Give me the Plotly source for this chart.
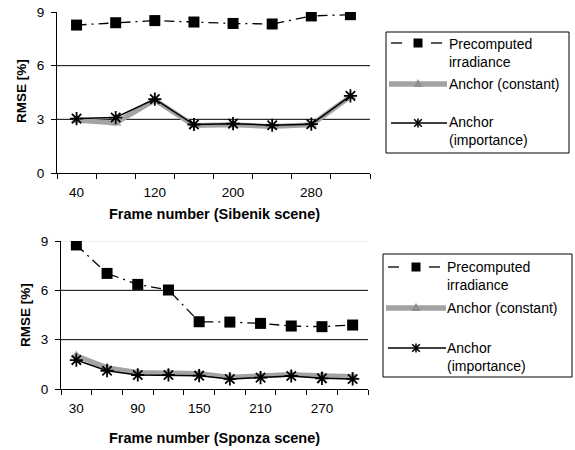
import plotly.graph_objects as go

W, H = 575, 450

# ---- data ----
frames_sibenik = [40, 80, 120, 160, 200, 240, 280, 320]
sib_precomputed = [8.27, 8.40, 8.52, 8.44, 8.36, 8.33, 8.78, 8.85]
sib_anchor_const = [2.95, 2.80, 4.08, 2.65, 2.70, 2.60, 2.70, 4.28]
sib_anchor_imp = [3.04, 3.10, 4.13, 2.71, 2.76, 2.67, 2.73, 4.31]
sib_ticks = [40, 120, 200, 280]

frames_sponza = [30, 60, 90, 120, 150, 180, 210, 240, 270, 300]
spo_precomputed = [8.76, 7.03, 6.36, 6.02, 4.09, 4.07, 3.99, 3.83, 3.79, 3.89]
spo_anchor_const = [2.02, 1.30, 1.00, 1.00, 0.95, 0.72, 0.80, 0.88, 0.80, 0.76]
spo_anchor_imp = [1.76, 1.11, 0.85, 0.85, 0.81, 0.61, 0.69, 0.79, 0.65, 0.61]
spo_ticks = [30, 90, 150, 210, 270]

y_ticks = [0, 3, 6, 9]
series_names = ["Precomputed<br>irradiance", "Anchor (constant)", "Anchor<br>(importance)"]

GRAY = "#a3a3a3"
FONT = "Liberation Sans, Arial, sans-serif"


def px(x):
    return x / W


def py(y):
    return 1 - y / H


fig = go.Figure()


def add_series(xs, pre, const, imp, xa, ya):
    fig.add_trace(go.Scatter(x=xs, y=const, mode="lines+markers", xaxis=xa, yaxis=ya,
                             line=dict(color=GRAY, width=5),
                             marker=dict(symbol="triangle-up", size=10, color=GRAY),
                             showlegend=False))
    fig.add_trace(go.Scatter(x=xs, y=imp, mode="lines+markers", xaxis=xa, yaxis=ya,
                             line=dict(color="black", width=1.5),
                             marker=dict(symbol="asterisk-open", size=11,
                                         line=dict(color="black", width=1.8)),
                             showlegend=False))
    fig.add_trace(go.Scatter(x=xs, y=pre, mode="lines+markers", xaxis=xa, yaxis=ya,
                             line=dict(color="black", width=1.3, dash="10px,5px,2px,5px"),
                             marker=dict(symbol="square", size=11, color="black"),
                             showlegend=False))


add_series(frames_sibenik, sib_precomputed, sib_anchor_const, sib_anchor_imp, "x", "y")
add_series(frames_sponza, spo_precomputed, spo_anchor_const, spo_anchor_imp, "x2", "y2")

step1 = frames_sibenik[1] - frames_sibenik[0]
step2 = frames_sponza[1] - frames_sponza[0]

xcommon = dict(showline=True, linecolor="black", linewidth=1, showgrid=False, zeroline=False,
               ticks="", tickfont=dict(size=13.5, family=FONT, color="black"),
               ticklabelstandoff=7,
               tickmode="array", fixedrange=True, automargin=False)
ycommon = dict(showline=True, linecolor="black", linewidth=1, showgrid=False, zeroline=False,
               ticks="outside", ticklen=5, tickcolor="black", tickwidth=1,
               ticklabelstandoff=4,
               tickmode="array", tickvals=y_ticks, range=[0, 9], automargin=False,
               tickfont=dict(size=13.5, family=FONT, color="black"), fixedrange=True)

fig.update_layout(
    width=W, height=H, margin=dict(l=0, r=0, t=0, b=0),
    paper_bgcolor="white", plot_bgcolor="white",
    font=dict(family=FONT, color="black"),
    xaxis=dict(xcommon, domain=[px(57), px(370)], anchor="y",
               range=[frames_sibenik[0] - step1 / 2, frames_sibenik[-1] + step1 / 2],
               tickvals=sib_ticks,
               minor=dict(ticks="outside", ticklen=5, tickcolor="black", tickwidth=1,
                          tick0=frames_sibenik[0] - step1 / 2, dtick=step1, showgrid=False)),
    yaxis=dict(ycommon, domain=[py(173), py(12)], anchor="x"),
    xaxis2=dict(xcommon, domain=[px(61), px(368)], anchor="y2",
                range=[frames_sponza[0] - step2 / 2, frames_sponza[-1] + step2 / 2],
                tickvals=spo_ticks,
                minor=dict(ticks="outside", ticklen=5, tickcolor="black", tickwidth=1,
                           tick0=frames_sponza[0] - step2 / 2, dtick=step2, showgrid=False)),
    yaxis2=dict(ycommon, domain=[py(389), py(241)], anchor="x2"),
)

shapes = []
# grid lines
for yv in [3, 6]:
    for xr, yr in [("x domain", "y"), ("x2 domain", "y2")]:
        shapes.append(dict(type="line", xref=xr, yref=yr, x0=0, x1=1, y0=yv, y1=yv,
                           line=dict(color="black", width=1), layer="below"))
shapes.append(dict(type="line", xref="x2 domain", yref="y2", x0=0, x1=1, y0=9, y1=9,
                   line=dict(color="#e0e0e0", width=1), layer="below"))

annotations = []


def title(text, x, y, size, angle=0):
    annotations.append(dict(text=text, x=px(x), y=py(y), textangle=angle,
                            xref="paper", yref="paper", showarrow=False,
                            xanchor="center", yanchor="middle",
                            font=dict(size=size, family=FONT)))


title("<b>Frame number (Sibenik scene)</b>", 214, 214, 14.5)
title("<b>Frame number (Sponza scene)</b>", 214, 438, 14.5)
title("<b>RMSE [%]</b>", 22, 91, 13.5, -90)
title("<b>RMSE [%]</b>", 25, 315, 13.5, -90)


def pline(x0, x1, y, color, width):
    shapes.append(dict(type="line", xref="paper", yref="paper", x0=px(x0), x1=px(x1),
                       y0=py(y), y1=py(y), line=dict(color=color, width=width)))


def legend(box, sx0, sx1, mx, tx, rows):
    bx0, by0, bx1, by1 = box
    shapes.append(dict(type="rect", xref="paper", yref="paper",
                       x0=px(bx0), x1=px(bx1), y0=py(by1), y1=py(by0),
                       line=dict(color="black", width=1), fillcolor="white"))
    (y_pre, y_pre_text), (y_con, y_con_text), (y_imp, y_imp_text) = rows
    # precomputed: dashes + square
    pline(sx0, sx0 + 11, y_pre, "black", 1.3)
    pline(mx + 13, mx + 24, y_pre, "black", 1.3)
    shapes.append(dict(type="rect", xref="paper", yref="paper", x0=px(mx - 4.5), x1=px(mx + 4.5),
                       y0=py(y_pre + 4.5), y1=py(y_pre - 4.5), fillcolor="black",
                       line=dict(color="black", width=0)))
    # constant: thick gray line + triangle
    pline(sx0 - 2, sx1, y_con, GRAY, 5.5)
    shapes.append(dict(type="path", xref="paper", yref="paper",
                       path=f"M {px(mx - 4.5)},{py(y_con + 3)} L {px(mx + 4.5)},{py(y_con + 3)} "
                            f"L {px(mx)},{py(y_con - 5)} Z",
                       fillcolor="#8f8f8f", line=dict(color="#8f8f8f", width=0)))
    # importance: black line + asterisk
    pline(sx0, sx1, y_imp, "black", 1.5)
    for dx, dy in [(0, 4.5), (3.8, 3.8), (-3.8, 3.8)]:
        shapes.append(dict(type="line", xref="paper", yref="paper",
                           x0=px(mx - dx), x1=px(mx + dx), y0=py(y_imp - dy), y1=py(y_imp + dy),
                           line=dict(color="black", width=1.6)))
    for name, ty in zip(series_names, [y_pre_text, y_con_text, y_imp_text]):
        annotations.append(dict(text=name, x=px(tx), y=py(ty), xref="paper", yref="paper",
                                xanchor="left", yanchor="middle", align="left", showarrow=False,
                                borderpad=0, font=dict(size=14, family=FONT, color="black")))


legend((386, 32, 569, 153), 391, 447, 418, 448,
       [(43, 52.5), (84, 84), (123, 131.5)])
legend((383, 254, 572, 377), 388, 446, 416, 446,
       [(267, 275.5), (308, 308), (348, 357)])

fig.update_layout(shapes=shapes, annotations=annotations)
fig.write_html("out.html", config=dict(displayModeBar=False),
               post_script="document.body.style.margin='0';")
